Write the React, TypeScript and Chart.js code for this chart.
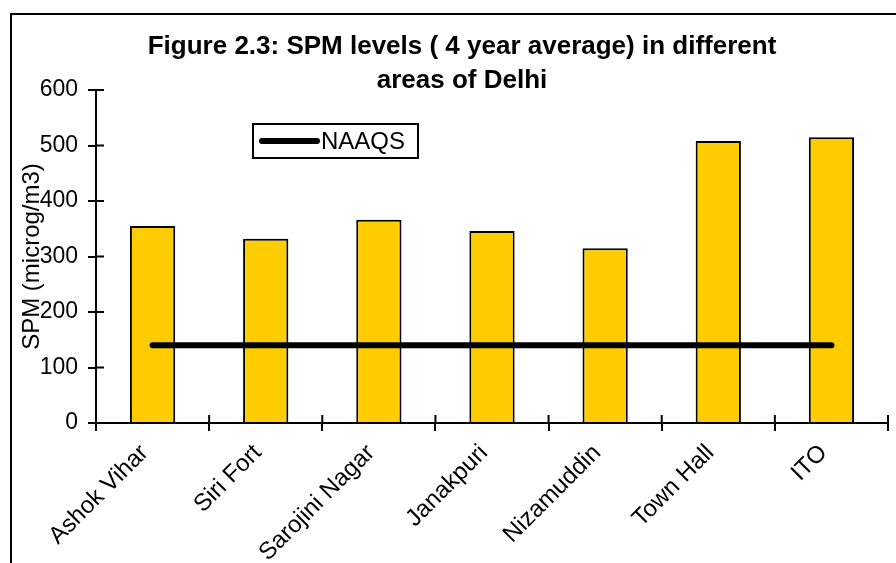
import React, { useEffect, useRef } from 'react';
import { Chart, registerables } from 'chart.js';

Chart.register(...registerables);

const categories = ['Ashok Vihar', 'Siri Fort', 'Sarojini Nagar', 'Janakpuri', 'Nizamuddin', 'Town Hall', 'ITO'];
const spmValues = [355, 332, 366, 346, 315, 508, 515];
const naaqsValues = [140, 140, 140, 140, 140, 140, 140];
const yMin = 0;
const yMax = 600;
const yStep = 100;
const titleLines = ['Figure 2.3: SPM levels ( 4 year average) in different', 'areas of Delhi'];
const yAxisTitle = 'SPM (microg/m3)';
const legendLabel = 'NAAQS';

const FONT = '"Liberation Sans", Arial, sans-serif';
const FS = 24;
const TICK_FS = 23;
const TITLE_FS = 26;

const decorPlugin = {
  id: 'decor',
  beforeDraw(chart: any) {
    const ctx = chart.ctx;
    ctx.save();
    ctx.strokeStyle = '#000';
    ctx.lineWidth = 2;
    ctx.strokeRect(11, 14, 1000, 1000);
    ctx.restore();
  },
  afterDraw(chart: any) {
    const ctx = chart.ctx;
    const area = chart.chartArea;
    const xs = chart.scales.x;
    const ys = chart.scales.y;
    ctx.save();
    ctx.strokeStyle = '#000';
    ctx.lineWidth = 2;
    ys.ticks.forEach((_t: any, i: number) => {
      const y = ys.getPixelForTick(i);
      ctx.beginPath();
      ctx.moveTo(area.left, y);
      ctx.lineTo(area.left + 8, y);
      ctx.stroke();
    });
    const half = (xs.getPixelForValue(1) - xs.getPixelForValue(0)) / 2;
    for (let i = 0; i <= categories.length; i++) {
      const x = xs.getPixelForValue(0) - half + i * half * 2;
      ctx.beginPath();
      ctx.moveTo(x, area.bottom - 8);
      ctx.lineTo(x, area.bottom);
      ctx.stroke();
    }
    ctx.fillStyle = '#000';
    ctx.font = `${FS}px ${FONT}`;
    ctx.textAlign = 'center';
    ctx.textBaseline = 'middle';
    ctx.translate(area.left - 64, (area.top + area.bottom) / 2);
    ctx.rotate(-Math.PI / 2);
    ctx.fillText(yAxisTitle, 0, 0);
    ctx.restore();

    ctx.save();
    const bx = area.left + 157;
    const by = area.top + 34;
    const bw = 165;
    const bh = 34;
    ctx.fillStyle = '#fff';
    ctx.fillRect(bx, by, bw, bh);
    ctx.strokeStyle = '#000';
    ctx.lineWidth = 2;
    ctx.strokeRect(bx, by, bw, bh);
    ctx.lineWidth = 6;
    ctx.lineCap = 'round';
    ctx.beginPath();
    ctx.moveTo(bx + 9, by + bh / 2);
    ctx.lineTo(bx + 64, by + bh / 2);
    ctx.stroke();
    ctx.fillStyle = '#000';
    ctx.font = `${FS}px ${FONT}`;
    ctx.textAlign = 'left';
    ctx.textBaseline = 'middle';
    ctx.fillText(legendLabel, bx + 68, by + bh / 2 + 1);
    ctx.restore();
  },
};

export default function App() {
  const ref = useRef<HTMLCanvasElement>(null);
  useEffect(() => {
    if (!ref.current) return;
    const chart = new Chart(ref.current, {
      type: 'bar',
      data: {
        labels: categories,
        datasets: [
          {
            type: 'line',
            label: legendLabel,
            data: naaqsValues,
            borderColor: '#000',
            backgroundColor: '#000',
            borderWidth: 6,
            borderCapStyle: 'round',
            pointRadius: 0,
            fill: false,
            order: 0,
          } as any,
          {
            type: 'bar',
            label: 'SPM',
            data: spmValues,
            backgroundColor: '#FFCC00',
            borderColor: '#000',
            borderWidth: 2,
            barPercentage: 0.4,
            categoryPercentage: 1,
            order: 1,
          },
        ],
      },
      options: {
        responsive: false,
        animation: false,
        devicePixelRatio: 1,
        layout: { padding: { left: 36, right: 8, top: 0, bottom: 0 } },
        plugins: {
          legend: { display: false },
          tooltip: { enabled: false },
          title: {
            display: true,
            text: titleLines,
            color: '#000',
            font: { family: FONT, size: TITLE_FS, weight: 'bold', lineHeight: 34 / TITLE_FS },
            padding: { top: 30, bottom: -8 },
          },
        },
        scales: {
          x: {
            grid: { display: true, drawOnChartArea: false, drawTicks: true, tickLength: 8, color: '#000', lineWidth: 2, offset: true },
            border: { display: true, color: '#000', width: 2 },
            ticks: { color: '#000', font: { family: FONT, size: FS }, maxRotation: 45, minRotation: 45, padding: 8, labelOffset: -8, autoSkip: false },
            afterFit(scale: any) { scale.height = 140; },
          },
          y: {
            min: yMin,
            max: yMax,
            grid: { display: true, drawOnChartArea: false, drawTicks: true, tickLength: 8, color: '#000', lineWidth: 2 },
            border: { display: true, color: '#000', width: 2 },
            ticks: { stepSize: yStep, color: '#000', font: { family: FONT, size: TICK_FS }, padding: 10 },
            afterFit(scale: any) { scale.width = 60; },
          },
        },
      },
      plugins: [decorPlugin],
    });
    return () => chart.destroy();
  }, []);
  return (
    <div style={{ position: 'absolute', left: 0, top: 0, width: 896, height: 563, background: '#fff' }}>
      <canvas ref={ref} width={896} height={563} />
    </div>
  );
}
